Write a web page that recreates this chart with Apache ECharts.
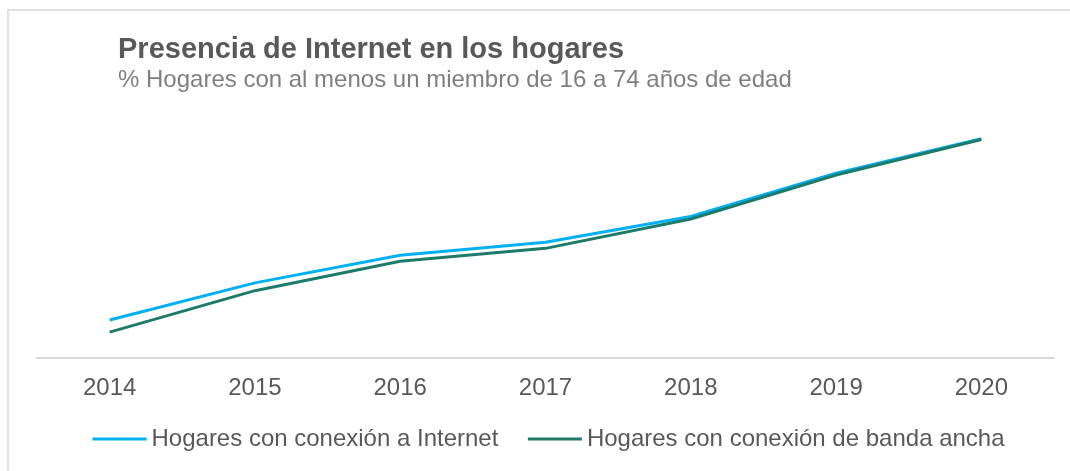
<!DOCTYPE html>
<html>
<head>
<meta charset="utf-8">
<script src="https://cdn.jsdelivr.net/npm/echarts@6/dist/echarts.min.js"></script>
<style>
  html, body { margin: 0; padding: 0; background: #fff; }
  #chart { width: 1070px; height: 471px; }
</style>
</head>
<body>
<div id="chart"></div>
<script>
// datos: % hogares (INE)
var years = ['2014', '2015', '2016', '2017', '2018', '2019', '2020'];
var internet = [74.4, 78.7, 81.9, 83.4, 86.4, 91.4, 95.4];
var bandaAncha = [73.0, 77.8, 81.2, 82.7, 86.1, 91.2, 95.3];

var font = '"Liberation Sans", Arial, sans-serif';

var myChart = echarts.init(document.getElementById('chart'));
var option = {
  backgroundColor: '#fff',
  animation: false,
  graphic: [
    {
      type: 'rect',
      shape: { x: 8, y: 10, width: 1200, height: 600 },
      style: { fill: 'none', stroke: '#d9d9d9', lineWidth: 1.5 },
      silent: true
    }
  ],
  title: [
    {
      text: 'Presencia de Internet en los hogares',
      left: 113,
      top: 30,
      textStyle: { fontFamily: font, fontSize: 29, fontWeight: 'bold', color: '#595959' }
    },
    {
      text: '% Hogares con al menos un miembro de 16 a 74 años de edad',
      left: 113,
      top: 63,
      textStyle: { fontFamily: font, fontSize: 24, fontWeight: 'normal', color: '#7f7f7f' }
    }
  ],
  legend: {
    left: 86,
    top: 422,
    itemWidth: 54,
    itemHeight: 14,
    itemGap: 28,
    itemStyle: { opacity: 0 },
    lineStyle: { width: 3 },
    textStyle: { fontFamily: font, fontSize: 24, color: '#595959' },
    data: ['Hogares con conexión a Internet', 'Hogares con conexión de banda ancha']
  },
  grid: { left: 37, right: 16, top: 99, bottom: 113 },
  xAxis: {
    type: 'category',
    boundaryGap: true,
    data: years,
    axisTick: { show: false },
    axisLine: { lineStyle: { color: '#d9d9d9', width: 2 } },
    axisLabel: { fontFamily: font, fontSize: 24, color: '#595959', margin: 18 }
  },
  yAxis: {
    type: 'value',
    min: 70,
    max: 100,
    show: false,
    splitLine: { show: false }
  },
  series: [
    {
      name: 'Hogares con conexión a Internet',
      type: 'line',
      data: internet,
      symbol: 'none',
      color: '#00b0f0',
      lineStyle: { width: 3, color: '#00b0f0' }
    },
    {
      name: 'Hogares con conexión de banda ancha',
      type: 'line',
      data: bandaAncha,
      symbol: 'none',
      color: '#1e7b6c',
      lineStyle: { width: 3, color: '#1e7b6c' }
    }
  ]
};
myChart.setOption(option);
</script>
</body>
</html>
